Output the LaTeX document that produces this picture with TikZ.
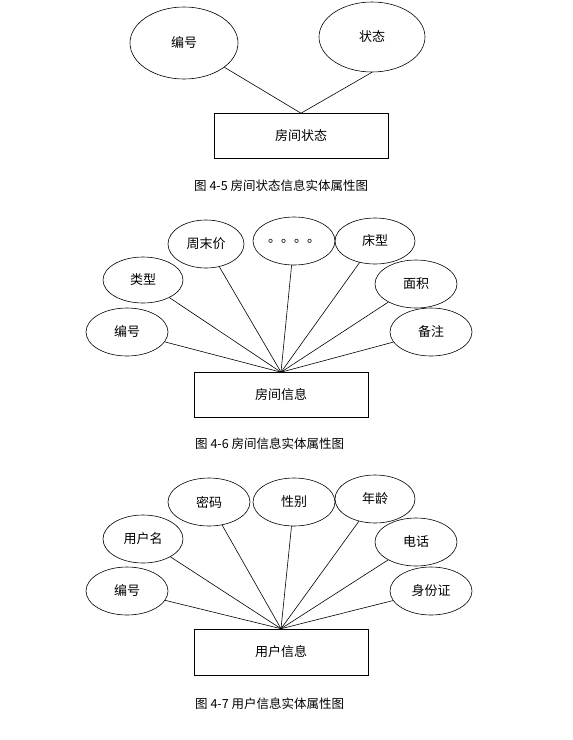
\documentclass[tikz,border=0pt]{standalone}
\usepackage{fontspec}
\newfontfamily\cjk{Noto Sans CJK SC}
\usetikzlibrary{shapes.geometric}
\tikzset{
  attr/.style={ellipse, draw=black, line width=0.6pt, inner sep=0pt,
               minimum width=82pt, minimum height=48pt, font=\cjk\fontsize{13}{15}\selectfont},
  entity/.style={rectangle, draw=black, line width=0.6pt, inner sep=0pt,
                 minimum width=174pt, minimum height=45pt, font=\cjk\fontsize{13}{15}\selectfont},
  caption/.style={anchor=west, font=\cjk\fontsize{12.5}{15}\selectfont, inner sep=0pt},
  link/.style={draw=black, line width=0.6pt},
}

\begin{document}
\begin{tikzpicture}[x=1pt, y=-1pt]
  \useasboundingbox (0,0) rectangle (573,740);

  % room status
  \node[entity] (RS) at (301,136) {房间状态};
  \node[attr, minimum width=108pt, minimum height=72pt] (RSa) at (184,43) {编号};
  \node[attr, minimum width=106pt, minimum height=70pt] (RSb) at (372,37) {状态};
  \draw[link] (RSa) -- (RS.north);
  \draw[link] (RSb.south) -- (RS.north);
  \node[caption] (RScap) at (194,186) {图 4-5 房间状态信息实体属性图};

  % room info
  \node[entity] (RI) at (281,395) {房间信息};
  \node[attr] (RIa) at (127,332) {编号};
  \node[attr, minimum width=80pt, minimum height=46pt] (RIb) at (143,280) {类型};
  \node[attr, minimum width=76pt] (RIc) at (206,244) {周末价};
  \node[attr] (RId) at (294,241) {。。。。};
  \node[attr, minimum width=80pt, minimum height=46pt] (RIe) at (375,241) {床型};
  \node[attr] (RIf) at (416,284) {面积};
  \node[attr] (RIg) at (431,332) {备注};
  \foreach \a in {a,b,c,d,e,f,g}
    \draw[link] (RI\a) -- (RI.north);
  \node[caption] (RIcap) at (195,444) {图 4-6 房间信息实体属性图};

  % user info
  \node[entity, minimum height=46pt] (UI) at (281,652) {用户信息};
  \node[attr] (UIa) at (127,591) {编号};
  \node[attr, minimum width=80pt] (UIb) at (143,539) {用户名};
  \node[attr] (UIc) at (209,502) {密码};
  \node[attr] (UId) at (294,502) {性别};
  \node[attr, minimum width=80pt] (UIe) at (375,499) {年龄};
  \node[attr] (UIf) at (416,542) {电话};
  \node[attr] (UIg) at (431,591) {身份证};
  \foreach \a in {a,b,c,d,e,f,g}
    \draw[link] (UI\a) -- (UI.north);
  \node[caption] (UIcap) at (195,704) {图 4-7 用户信息实体属性图};
\end{tikzpicture}
\end{document}
